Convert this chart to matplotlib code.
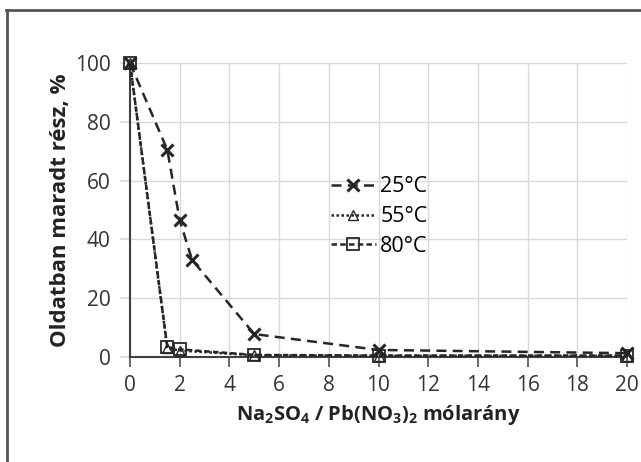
import matplotlib.pyplot as plt
from matplotlib.lines import Line2D

# adatok
x25 = [0, 1.5, 2, 2.5, 5, 10, 20]
y25 = [100, 70.5, 46.5, 33, 7.8, 2.4, 1.3]
x55 = [0, 1.5, 2, 5, 10, 20]
y55 = [100, 3.0, 2.2, 0.6, 0.4, 0.4]
x80 = [0, 1.5, 2, 5, 10, 20]
y80 = [100, 3.4, 2.6, 0.7, 0.5, 0.5]
xticks = list(range(0, 21, 2))
yticks = [0, 20, 40, 60, 80, 100]

plt.rcParams['font.family'] = ['Open Sans', 'DejaVu Sans']
plt.rcParams['mathtext.fontset'] = 'custom'
plt.rcParams['mathtext.rm'] = 'Open Sans'
plt.rcParams['mathtext.bf'] = 'Open Sans:bold'

fig = plt.figure(figsize=(6.41, 4.62), dpi=100)
ax = fig.add_axes([130 / 641, 105 / 462, 497 / 641, 294 / 462])

c = '#262626'
ax.plot(x25, y25, linestyle=(0, (4, 2.5)), color=c, lw=1.8, marker='x',
        markersize=9, markeredgewidth=2.2, label='25°C', zorder=3, clip_on=False)
ax.plot(x55, y55, linestyle=(0, (1, 1)), color=c, lw=1.8, marker='^',
        markersize=7, markerfacecolor='none', markeredgewidth=1, label='55°C', zorder=4,
        clip_on=False)
ax.plot(x80, y80, linestyle=(0, (2.2, 1.3)), color=c, lw=1.8, marker='s',
        markersize=9, markerfacecolor='none', markeredgewidth=1.3, label='80°C', zorder=5,
        clip_on=False)

ax.set_xlim(0, 20)
ax.set_ylim(0, 100)
ax.set_xticks(xticks)
ax.set_yticks(yticks)
ax.grid(True, color='#d9d9d9', lw=1)
ax.set_axisbelow(True)
for s in ['top', 'right']:
    ax.spines[s].set_visible(False)
ax.spines['left'].set_color('#404040')
ax.spines['bottom'].set_color('#404040')
ax.spines['left'].set_linewidth(1.5)
ax.spines['bottom'].set_linewidth(1.5)
ax.tick_params(axis='both', labelsize=15, colors='#505050', labelcolor='#333333',
               direction='out', length=7, width=1.2)
ax.tick_params(axis='y', pad=7, color='#d9d9d9')
ax.tick_params(axis='x', pad=6)

ax.set_ylabel('Oldatban maradt rész, %', fontsize=16, fontweight='bold', labelpad=3,
              color='#222222')
ax.set_xlabel(r'Na$_\mathbf{2}$SO$_\mathbf{4}$ / Pb(NO$_\mathbf{3}$)$_\mathbf{2}$ mólarány',
              fontsize=14.5, fontweight='bold', labelpad=5, color='#222222')

ax.legend(loc='upper left', bbox_to_anchor=(0.365, 0.68), frameon=False, fontsize=15.5,
          handlelength=2.1, handletextpad=0.2, labelspacing=0.4)

# keret
fig.add_artist(Line2D([6.5 / 641, 6.5 / 641], [0, 1 - 10 / 462], color='#555555', lw=2))
fig.add_artist(Line2D([6 / 641, 1], [1 - 10 / 462, 1 - 10 / 462], color='#555555', lw=2))

fig.savefig('out.png', dpi=100)
